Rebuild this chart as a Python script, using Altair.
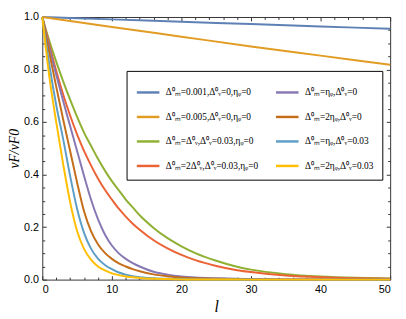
import altair as alt
import pandas as pd

# ---------------- data ----------------
series_names = [
    "Δ⁰ₘ=0.001,Δ⁰ᵥ=0,ηᵩ=0",
    "Δ⁰ₘ=0.005,Δ⁰ᵥ=0,ηᵩ=0",
    "Δ⁰ₘ=Δ⁰ᵥ,Δ⁰ᵥ=0.03,ηᵩ=0",
    "Δ⁰ₘ=2Δ⁰ᵥ,Δ⁰ᵥ=0.03,ηᵩ=0",
    "Δ⁰ₘ=ηᵩ,Δ⁰ᵥ=0",
    "Δ⁰ₘ=2ηᵩ,Δ⁰ᵥ=0",
    "Δ⁰ₘ=ηᵩ,Δ⁰ᵥ=0.03",
    "Δ⁰ₘ=2ηᵩ,Δ⁰ᵥ=0.03",
]
series_colors = ["#5E81B5", "#E19C24", "#8FB032", "#EB6235",
                 "#8778B3", "#C56E1A", "#5D9EC7", "#FFBF00"]

l_slow = [0, 10, 20, 30, 40, 50]
blue_v = [1.0, 0.991, 0.982, 0.973, 0.964, 0.955]
orange_v = [1.0, 0.962, 0.925, 0.888, 0.853, 0.818]

l_fast = [0, 1, 2, 3, 4, 5, 6, 7, 8, 9, 10, 11, 12, 13, 14, 16, 18, 20,
          22, 25, 28, 30, 35, 40, 45, 50]
green_v = [1.0, 0.91, 0.83, 0.755, 0.685, 0.62, 0.56, 0.51, 0.46, 0.415,
           0.375, 0.34, 0.305, 0.275, 0.245, 0.197, 0.158, 0.127, 0.101,
           0.072, 0.049, 0.038, 0.021, 0.012, 0.007, 0.004]
red_v = [1.0, 0.895, 0.795, 0.705, 0.625, 0.553, 0.49, 0.435, 0.385, 0.342,
         0.305, 0.27, 0.24, 0.213, 0.19, 0.15, 0.119, 0.094, 0.074, 0.052,
         0.036, 0.029, 0.016, 0.009, 0.005, 0.003]
purple_v = [1.0, 0.885, 0.78, 0.68, 0.585, 0.49, 0.395, 0.305, 0.23, 0.172,
            0.13, 0.1, 0.079, 0.063, 0.05, 0.03, 0.019, 0.012, 0.008,
            0.005, 0.003, 0.002, 0.001, 0.0005, 0.0003, 0.0002]
brown_v = [1.0, 0.865, 0.735, 0.61, 0.49, 0.37, 0.26, 0.185, 0.135, 0.102,
           0.079, 0.062, 0.05, 0.04, 0.032, 0.02, 0.013, 0.008, 0.005, 0.003,
           0.002, 0.001, 0.0005, 0.0002, 0.0001, 0.0]
lblue_v = [1.0, 0.82, 0.665, 0.535, 0.395, 0.27, 0.178, 0.118, 0.08, 0.056,
           0.04, 0.027, 0.019, 0.013, 0.009, 0.005, 0.003, 0.002, 0.001,
           0.0005, 0.0002, 0.0001, 0.0, 0.0, 0.0, 0.0]
yellow_v = [1.0, 0.775, 0.6, 0.44, 0.295, 0.185, 0.117, 0.076, 0.05, 0.035,
            0.024, 0.017, 0.012, 0.009, 0.006, 0.003, 0.002, 0.001, 0.0005,
            0.0002, 0.0001, 0.0, 0.0, 0.0, 0.0, 0.0]

x_major = [0, 10, 20, 30, 40, 50]
x_minor = [v for v in range(2, 50, 2) if v % 10 != 0]
y_major = [0.0, 0.2, 0.4, 0.6, 0.8, 1.0]
y_minor = [round(i * 0.05, 2) for i in range(1, 20) if i % 4 != 0]

# ---------------- table ----------------
rows = []
for name, xs, ys in [
    (series_names[0], l_slow, blue_v),
    (series_names[1], l_slow, orange_v),
    (series_names[2], l_fast, green_v),
    (series_names[3], l_fast, red_v),
    (series_names[4], l_fast, purple_v),
    (series_names[5], l_fast, brown_v),
    (series_names[6], l_fast, lblue_v),
    (series_names[7], l_fast, yellow_v),
]:
    for a, b in zip(xs, ys):
        rows.append({"series": name, "l": a, "v": b})
df = pd.DataFrame(rows)

W, H = 355, 268
xs_ = alt.Scale(domain=[0, 50], nice=False, zero=False)
ys_ = alt.Scale(domain=[0, 1], nice=False, zero=False)
FRAME = "#333333"

lines = alt.Chart(df).mark_line(strokeWidth=2, interpolate="monotone").encode(
    x=alt.X("l:Q", scale=xs_, axis=alt.Axis(
        orient="bottom", values=x_major, ticks=False, labelPadding=4,
        labelFont="Liberation Sans", labelFontSize=11, labelColor="black",
        domainColor=FRAME, grid=False, format="d",
        title="l", titleFont="Liberation Serif", titleFontStyle="italic",
        titleFontWeight="normal", titleFontSize=16, titlePadding=5,
        titleColor="black")),
    y=alt.Y("v:Q", scale=ys_, axis=alt.Axis(
        orient="left", values=y_major, ticks=False, labelPadding=4,
        labelFont="Liberation Sans", labelFontSize=11, labelColor="black",
        domainColor=FRAME, grid=False, format=".1f",
        title="νF/νF0", titleFont="Liberation Serif", titleFontStyle="italic",
        titleFontWeight="normal", titleFontSize=14, titlePadding=2,
        titleColor="black")),
    color=alt.Color("series:N", scale=alt.Scale(domain=series_names, range=series_colors),
                    legend=alt.Legend(
                        orient="none", legendX=86, legendY=55, columns=2, title=None,
                        symbolType="stroke", symbolSize=529, symbolStrokeWidth=2.5,
                        labelFont="Liberation Serif", labelFontSize=9.5, labelColor="black",
                        labelOffset=5, strokeColor="black", fillColor="white",
                        padding=9, rowPadding=7, columnPadding=12, labelLimit=300)),
    detail="series:N",
)


def tick_layer(xvals, yvals, size, xorient, yorient, domain):
    return alt.Chart(df).mark_point(opacity=0).encode(
        x=alt.X("l:Q", scale=xs_, axis=alt.Axis(
            orient=xorient, offset=-H, values=xvals, tickSize=size, labels=False,
            domain=domain, domainColor=FRAME, tickColor=FRAME, grid=False, title=None)),
        y=alt.Y("v:Q", scale=ys_, axis=alt.Axis(
            orient=yorient, offset=-W, values=yvals, tickSize=size, labels=False,
            domain=domain, domainColor=FRAME, tickColor=FRAME, grid=False, title=None)),
    )


t1 = tick_layer(x_major, y_major, 4, "top", "right", False)
t2 = tick_layer(x_minor, y_minor, 2.5, "top", "right", False)
t3 = tick_layer(x_major, y_major, 4, "bottom", "left", True)
t4 = tick_layer(x_minor, y_minor, 2.5, "bottom", "left", False)

chart = alt.layer(lines, t1, t2, t3, t4).resolve_axis(
    x="independent", y="independent"
).properties(
    width=W, height=H,
    autosize=alt.AutoSizeParams(type="none"),
    padding={"left": 35, "top": 6, "right": 8, "bottom": 37},
).configure_view(stroke=None)

chart.save("out.html", embed_options={"renderer": "svg", "actions": False})
